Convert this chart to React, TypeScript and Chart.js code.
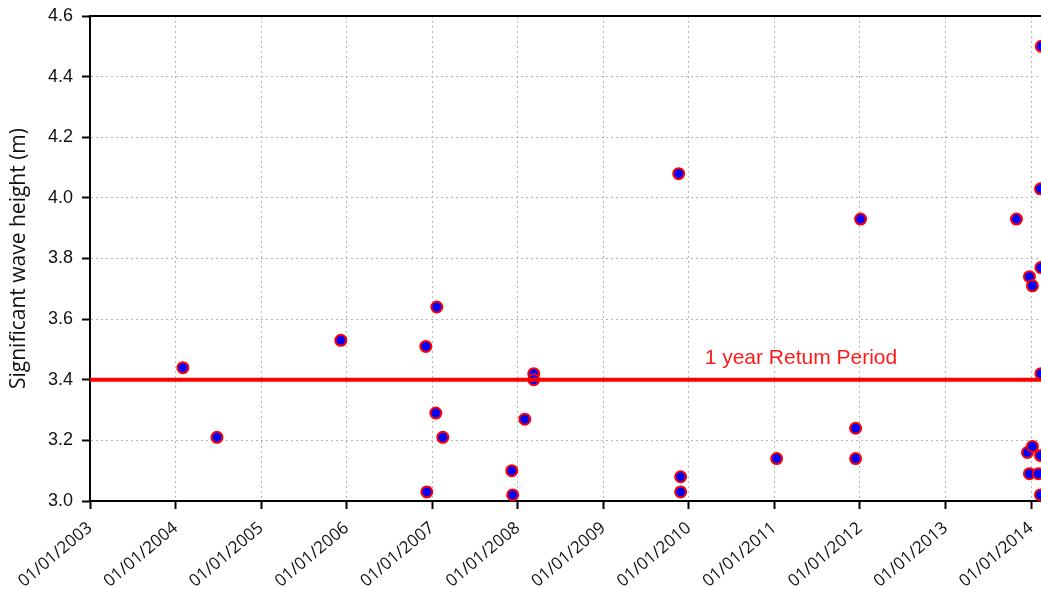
import React, { useEffect, useRef } from "react";
import { Chart, registerables } from "chart.js";

Chart.register(...registerables);

// Event dates as decimal years, and significant wave heights (m)
const eventYears: number[] = [
  2004.086, 2004.484, 2005.932, 2006.925, 2007.054, 2007.042, 2007.124, 2006.937,
  2007.930, 2007.941, 2008.082, 2008.187, 2008.187, 2009.881, 2009.904, 2009.904,
  2011.026, 2011.949, 2011.949, 2012.007, 2013.829, 2013.981, 2014.016, 2013.958,
  2014.016, 2013.981, 2014.086, 2014.110, 2014.110, 2014.120, 2014.110, 2014.115,
  2014.115,
];
const waveHeights: number[] = [
  3.44, 3.21, 3.53, 3.51, 3.64, 3.29, 3.21, 3.03,
  3.10, 3.02, 3.27, 3.42, 3.40, 4.08, 3.08, 3.03,
  3.14, 3.24, 3.14, 3.93, 3.93, 3.74, 3.71, 3.16,
  3.18, 3.09, 3.09, 3.15, 3.02, 4.50, 4.03, 3.77,
  3.42,
];

const returnPeriodHeight = 3.4;
const returnPeriodLabel = "1 year Retum Period";
const xMin = 2003;
const xMax = 2014.835;
const yMin = 3.0;
const yMax = 4.6;
const yTitle = "Significant wave height (m)";

const annotationPlugin = {
  id: "rpLabel",
  afterDatasetsDraw(chart: any) {
    const { ctx, scales } = chart;
    const x = scales.x.getPixelForValue(2011.31);
    const y = scales.y.getPixelForValue(3.472);
    ctx.save();
    ctx.font = '21px "Liberation Sans", Arial, sans-serif';
    ctx.fillStyle = "#ff1a1a";
    ctx.textAlign = "center";
    ctx.textBaseline = "middle";
    ctx.fillText(returnPeriodLabel, x, y);
    ctx.restore();
  },
};

const topBorderPlugin = {
  id: "topBorder",
  afterDraw(chart: any) {
    const { ctx, chartArea } = chart;
    ctx.save();
    ctx.strokeStyle = "#000";
    ctx.lineWidth = 2;
    ctx.beginPath();
    ctx.moveTo(chartArea.left, chartArea.top);
    ctx.lineTo(chartArea.right, chartArea.top);
    ctx.stroke();
    ctx.restore();
  },
};

const gridOpts: any = {
  color: "#b5b5b5",
  lineWidth: 1,
  drawTicks: true,
  tickLength: 8,
  tickColor: "#000",
  tickWidth: 2,
  tickBorderDash: [],
};

export default function App() {
  const canvasRef = useRef<HTMLCanvasElement | null>(null);

  useEffect(() => {
    if (!canvasRef.current) return;
    const points = eventYears.map((x, i) => ({ x, y: waveHeights[i] }));
    const chart = new Chart(canvasRef.current, {
      type: "scatter",
      data: {
        datasets: [
          {
            type: "line",
            data: [
              { x: xMin, y: returnPeriodHeight },
              { x: xMax, y: returnPeriodHeight },
            ],
            borderColor: "#ff0000",
            borderWidth: 4,
            pointRadius: 0,
            order: 0,
          } as any,
          {
            data: points,
            backgroundColor: "#0000ff",
            borderColor: "#ff0000",
            borderWidth: 2,
            pointRadius: 5.5,
            order: 1,
          },
        ],
      },
      options: {
        animation: false,
        responsive: true,
        maintainAspectRatio: false,
        layout: { padding: { top: 16, left: 0, right: 0, bottom: 0 } },
        plugins: {
          legend: { display: false },
          tooltip: { enabled: false },
        },
        scales: {
          x: {
            type: "linear",
            min: xMin,
            max: xMax,
            afterBuildTicks: (scale: any) => {
              scale.ticks = scale.ticks.filter(
                (t: any) => Math.abs(t.value - Math.round(t.value)) < 1e-6
              );
            },
            afterFit: (scale: any) => {
              scale.height = 88;
              scale.paddingLeft = 0;
              scale.paddingRight = 0;
            },
            ticks: {
              stepSize: 1,
              autoSkip: false,
              minRotation: 40,
              maxRotation: 40,
              padding: 9,
              color: "#111",
              font: { family: '"Open Sans", sans-serif', size: 17 },
              callback: (v: any) => "01/01/" + Math.round(Number(v)),
            },
            grid: gridOpts,
            border: { display: true, color: "#000", width: 2, dash: [2, 3] },
          },
          y: {
            type: "linear",
            min: yMin,
            max: yMax,
            afterFit: (scale: any) => {
              scale.width = 90;
              scale.paddingTop = 0;
              scale.paddingBottom = 0;
            },
            ticks: {
              stepSize: 0.2,
              padding: 9,
              color: "#111",
              font: { family: '"Liberation Sans", Arial, sans-serif', size: 18 },
              callback: (v: any) => Number(v).toFixed(1),
            },
            title: {
              display: true,
              text: yTitle,
              color: "#111",
              font: { family: '"Open Sans", sans-serif', size: 21 },
              padding: { top: 6, bottom: 0 },
            },
            grid: gridOpts,
            border: { display: true, color: "#000", width: 2, dash: [2, 3] },
          },
        },
      },
      plugins: [annotationPlugin, topBorderPlugin],
    });
    return () => chart.destroy();
  }, []);

  return (
    <div
      style={{
        position: "fixed",
        left: 0,
        top: 0,
        width: 1041,
        height: 589,
        overflow: "hidden",
        background: "#fff",
      }}
    >
      <div style={{ position: "absolute", left: 0, top: 0, width: 1110, height: 589 }}>
        <canvas ref={canvasRef} />
      </div>
    </div>
  );
}
